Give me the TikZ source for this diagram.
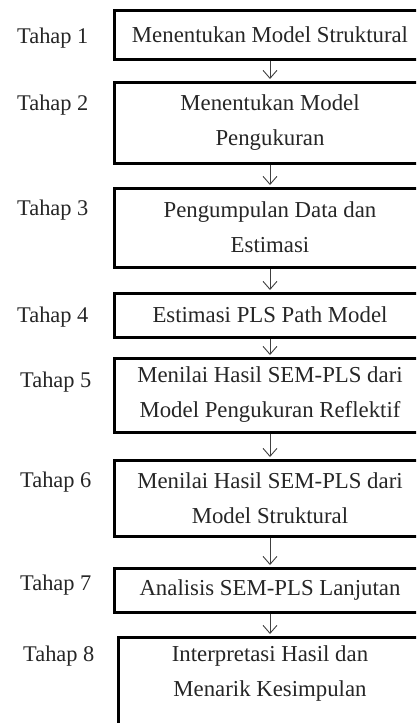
\documentclass[tikz,border=0pt]{standalone}
\usepackage{fontspec}
\setmainfont{Liberation Serif}
\usetikzlibrary{arrows.meta}
\tikzset{
  stepbox/.style={draw=black, line width=3pt, minimum width=312pt, align=center,
    inner sep=0pt, font=\fontsize{22.8}{35}\selectfont, text=black!85},
  tahap/.style={anchor=base west, inner sep=0pt, font=\fontsize{22.4}{26}\selectfont, text=black!85},
  arr/.style={line width=0.9pt, draw=black!75, shorten >=1.5pt,
    -{Straight Barb[length=8pt,width=14pt,line width=0.9pt]}}
}
\begin{document}
\begin{tikzpicture}[x=1pt,y=-1pt]
\useasboundingbox (0,0) rectangle (416,723);
\clip (0,0) rectangle (416,723);
\fill[white] (0,0) rectangle (416,723);
% boxes
\node[stepbox, minimum height=49pt] (b1) at (270,34.5) {Menentukan Model Struktural};
\node[stepbox, minimum height=81pt] (b2) at (270,122.5) {Menentukan Model\\Pengukuran};
\node[stepbox, minimum height=79pt] (b3) at (270,227.5) {Pengumpulan Data dan\\Estimasi};
\node[stepbox, minimum height=44pt] (b4) at (270,315) {Estimasi PLS Path Model};
\node[stepbox, minimum height=74pt] (b5) at (270,395) {Menilai Hasil SEM-PLS dari\\Model Pengukuran Reflektif};
\node[stepbox, minimum height=76pt] (b6) at (270,498) {Menilai Hasil SEM-PLS dari\\Model Struktural};
\node[stepbox, minimum height=44pt] (b7) at (270,590) {Analisis SEM-PLS Lanjutan};
\node[stepbox, minimum height=83pt, minimum width=304pt] (b8) at (270,685.5)
  {\begin{tabular}{@{}c@{}}Interpretasi Hasil dan\\Menarik Kesimpulan\\[27pt]\end{tabular}};
% labels
\node[tahap] (t1) at (17,43) {Tahap 1};
\node[tahap] (t2) at (17,110) {Tahap 2};
\node[tahap] (t3) at (17,215) {Tahap 3};
\node[tahap] (t4) at (17,322) {Tahap 4};
\node[tahap] (t5) at (20,387) {Tahap 5};
\node[tahap] (t6) at (20,487) {Tahap 6};
\node[tahap] (t7) at (20,590) {Tahap 7};
\node[tahap] (t8) at (23,661) {Tahap 8};
% arrows
\draw[arr] (b1.south) -- (b2.north);
\draw[arr] (b2.south) -- (b3.north);
\draw[arr] (b3.south) -- (b4.north);
\draw[arr] (b4.south) -- (b5.north);
\draw[arr] (b5.south) -- (b6.north);
\draw[arr] (b6.south) -- (b7.north);
\draw[arr] (b7.south) -- (b8.north);
\end{tikzpicture}
\end{document}
